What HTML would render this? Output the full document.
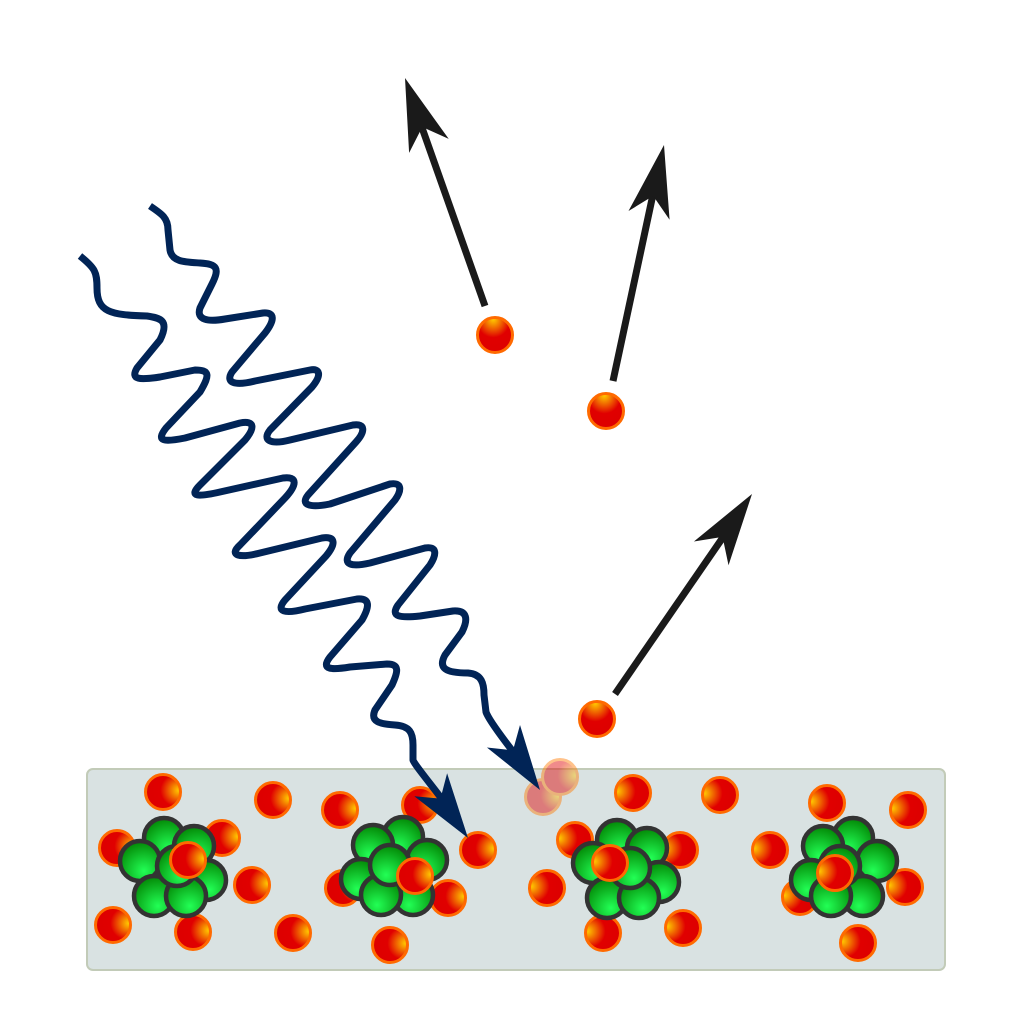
<!DOCTYPE html>
<html><head><meta charset="utf-8"><style>html,body{margin:0;padding:0;background:#fff}svg{display:block}</style></head>
<body>
<svg width="1024" height="1024" viewBox="0 0 1024 1024" xmlns="http://www.w3.org/2000/svg">
<defs>
<radialGradient id="eR" cx="0.85" cy="0.45" r="0.85" fx="0.95" fy="0.45"><stop offset="0" stop-color="#ffcc00"/><stop offset="0.55" stop-color="#e00000"/><stop offset="1" stop-color="#dd0000"/></radialGradient>
<radialGradient id="eL" cx="0.15" cy="0.45" r="0.85" fx="0.05" fy="0.45"><stop offset="0" stop-color="#ffcc00"/><stop offset="0.55" stop-color="#e00000"/><stop offset="1" stop-color="#dd0000"/></radialGradient>
<radialGradient id="eT" cx="0.45" cy="0.15" r="0.85" fx="0.45" fy="0.05"><stop offset="0" stop-color="#ffcc00"/><stop offset="0.55" stop-color="#e00000"/><stop offset="1" stop-color="#dd0000"/></radialGradient>
<radialGradient id="g" cx="0.6" cy="0.75" r="0.8"><stop offset="0" stop-color="#22ff55"/><stop offset="1" stop-color="#008000"/></radialGradient>
<g id="nuc">
<circle cx="-8" cy="-28" r="20"/><circle cx="22" cy="-20" r="20"/><circle cx="-32" cy="-5" r="20"/><circle cx="34" cy="14" r="20"/><circle cx="-18" cy="30" r="20"/><circle cx="14" cy="30" r="20"/><circle cx="5" cy="0" r="20"/>
</g>
</defs>
<rect x="87" y="769" width="858" height="201" rx="6" fill="#d9e2e2" stroke="#c2cbb8" stroke-width="2"/>

<g fill="url(#eR)" stroke="#ff6a00" stroke-width="3">
<circle cx="163" cy="792" r="17.5"/><circle cx="273" cy="800" r="17.5"/><circle cx="340" cy="810" r="17.5"/><circle cx="420" cy="805" r="17.5"/>
<circle cx="117" cy="848" r="17.5"/><circle cx="222" cy="838" r="17.5"/><circle cx="252" cy="885" r="17.5"/><circle cx="478" cy="850" r="17.5"/>
<circle cx="343" cy="888" r="17.5"/><circle cx="448" cy="898" r="17.5"/><circle cx="113" cy="925" r="17.5"/><circle cx="193" cy="932" r="17.5"/>
<circle cx="293" cy="933" r="17.5"/><circle cx="390" cy="945" r="17.5"/>
</g>
<g fill="url(#eL)" stroke="#ff6a00" stroke-width="3">
<circle cx="633" cy="793" r="17.5"/><circle cx="720" cy="795" r="17.5"/><circle cx="827" cy="803" r="17.5"/><circle cx="908" cy="810" r="17.5"/>
<circle cx="575" cy="840" r="17.5"/><circle cx="680" cy="850" r="17.5"/><circle cx="770" cy="850" r="17.5"/><circle cx="547" cy="888" r="17.5"/>
<circle cx="800" cy="897" r="17.5"/><circle cx="905" cy="887" r="17.5"/><circle cx="603" cy="933" r="17.5"/><circle cx="683" cy="928" r="17.5"/>
<circle cx="858" cy="943" r="17.5"/>
</g>

<g fill="url(#g)" stroke="#333" stroke-width="4.5">
<use href="#nuc" transform="translate(172,866)"/>
<use href="#nuc" transform="translate(395,865) scale(-1,1)"/>
<use href="#nuc" transform="translate(625,868)"/>
<use href="#nuc" transform="translate(845,866) scale(-1,1)"/>
</g>
<g stroke="#ff6a00" stroke-width="3">
<circle cx="188" cy="860" r="17.5" fill="url(#eR)"/><circle cx="415" cy="876" r="17.5" fill="url(#eR)"/>
<circle cx="610" cy="863" r="17.5" fill="url(#eL)"/><circle cx="835" cy="873" r="17.5" fill="url(#eL)"/>
</g>
<g opacity="0.45" fill="url(#eR)" stroke="#ff7a00" stroke-width="3">
<circle cx="543" cy="797" r="17.5"/><circle cx="560" cy="777" r="17.5"/>
</g>

<g fill="none" stroke="#012456" stroke-width="7" stroke-linecap="butt" stroke-linejoin="round">
<path d="M80,256 C95,268 97,272 97,288 C97,312 110,315 147,316 C160,318 170,320 160,340 L137,368 C130,380 140,380 160,377 L195,370 C210,370 210,375 200,392 L166,428 C155,442 165,442 185,438 L240,423 C255,420 255,428 245,440 L200,485 C188,497 198,497 220,492 L283,478 C298,476 297,485 285,498 L240,545 C228,556 240,558 260,553 L322,538 C336,536 336,544 326,556 L285,600 C275,612 285,614 305,609 L357,599 C370,598 370,606 362,620 L330,657 C320,670 332,670 350,667 L387,664 C400,664 398,672 392,685 L375,710 C370,722 380,724 395,725 C410,726 413,733 413,745 L413,760 C414,764 430,783 448,807"/>
<path d="M150,206 C162,214 168,218 168,230 L170,250 C172,262 185,262 200,263 C217,264 220,268 212,284 L200,308 C196,320 208,322 225,319 L263,313 C275,312 275,320 265,333 L232,372 C225,383 235,386 255,381 L310,370 C320,368 322,375 312,387 L270,430 C262,440 270,445 290,440 L353,425 C366,423 365,432 356,442 L308,495 C300,505 310,508 330,504 L390,484 C402,482 402,490 395,500 L350,553 C342,565 352,567 370,563 L425,548 C437,546 437,554 430,565 L398,605 C390,617 400,618 420,616 L453,611 C468,610 468,620 462,632 L445,655 C438,668 445,673 468,673 C482,674 484,684 484,695 L486,712 C488,718 500,735 518,758"/>
</g>
<g fill="#012456">
<path d="M0,0 L-65,-20 L-48,0 L-65,20 Z" transform="translate(468,838) rotate(55)"/>
<path d="M0,0 L-65,-20 L-48,0 L-65,20 Z" transform="translate(540,790) rotate(55.8)"/>
</g>

<g stroke="#1a1a1a" stroke-width="7" fill="none">
<line x1="485" y1="306" x2="420" y2="122"/>
<line x1="613" y1="381" x2="655" y2="185"/>
<line x1="615" y1="694" x2="728" y2="530"/>
</g>
<g fill="#1a1a1a">
<path d="M0,0 L-72,-21 L-52,0 L-72,21 Z" transform="translate(405,78) rotate(-109.4)"/>
<path d="M0,0 L-72,-21 L-52,0 L-72,21 Z" transform="translate(664,145) rotate(-78)"/>
<path d="M0,0 L-72,-21 L-52,0 L-72,21 Z" transform="translate(752,494) rotate(-55.5)"/>
</g>
<g fill="url(#eT)" stroke="#ff6a00" stroke-width="3">
<circle cx="495" cy="335" r="17.5"/><circle cx="606" cy="411" r="17.5"/><circle cx="597" cy="719" r="17.5"/>
</g>
</svg>
</body></html>
